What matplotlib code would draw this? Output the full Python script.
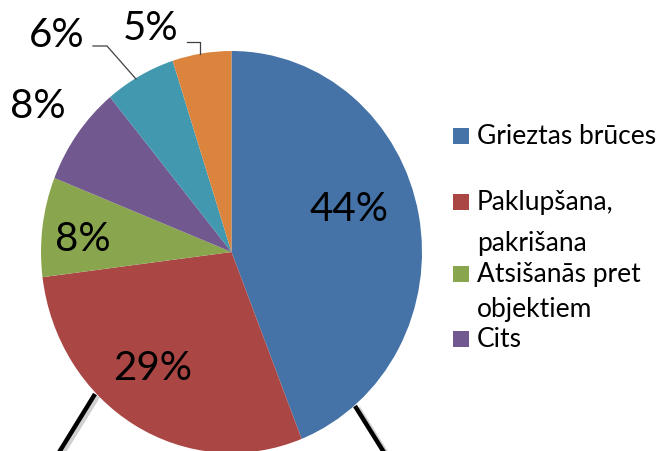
import matplotlib
matplotlib.use("Agg")
import matplotlib.pyplot as plt
from matplotlib.patches import Rectangle

categories = ["Grieztas brūces", "Paklupšana,\npakrišana", "Atsišanās pret\nobjektiem",
              "Cits", "Kategorija 5", "Kategorija 6"]
shares = [44, 29, 8, 8, 6, 5]
colors = ["#4572A7", "#AA4643", "#89A54E", "#71588F", "#4198AF", "#DB843D"]

W, H = 667, 452
FONT = ["Lato", "DejaVu Sans"]

fig = plt.figure(figsize=(W / 100, H / 100), dpi=100)
ax = fig.add_axes([0, 0, 1, 1])

# pie centre / radii in pixels (the reference pie is slightly stretched)
cx, cy, rx, ry = 231.5, 253, 190.5, 201

ax.pie(shares, colors=colors, startangle=90, counterclock=False,
       radius=1, center=(0, 0), wedgeprops=dict(linewidth=0))
ax.set_aspect("auto")
ax.set_xlim(-cx / rx, (W - cx) / rx)
ax.set_ylim((cy - H) / ry, cy / ry)
ax.axis("off")


def px(x, y):
    return ((x - cx) / rx, (cy - y) / ry)


# percentage labels (pixel centres)
label_pos = [(349, 210), (153, 369), (83, 240), (38, 107), (57, 36), (151, 28)]
for val, (x, y) in zip(shares, label_pos):
    ax.text(*px(x, y), f"{val}%", fontsize=29, family=FONT,
            ha="center", va="center", color="black", zorder=5)

# leader lines for the two small slices
for pts in ([(93, 47), (107, 47), (136, 80)], [(187, 43), (200, 43), (200, 55)]):
    xs, ys = zip(*[px(*p) for p in pts])
    ax.plot(xs, ys, color="#404040", lw=0.9, zorder=4)

# black callout lines behind the pie, with a soft shadow
for (x0, y0), (x1, y1) in (((95, 395), (58, 455)), ((355, 407), (385, 455))):
    sx, sy = zip(px(x0 + 3, y0 + 2), px(x1 + 3, y1 + 2))
    ax.plot(sx, sy, color="#d0d0d0", lw=3.5, zorder=-2, solid_capstyle="butt")
    lx, ly = zip(px(x0, y0), px(x1, y1))
    ax.plot(lx, ly, color="black", lw=3.2, zorder=-1, solid_capstyle="butt")

# legend (only the first four entries fit in the cropped picture)
line_rows = [[137], [203, 244], [275, 310], [340]]
for name, col, rows in zip(categories[:4], colors, line_rows):
    fig.patches.append(Rectangle((453 / W, 1 - (rows[0] + 8) / H), 16 / W, 16 / H,
                                 transform=fig.transFigure, facecolor=col,
                                 edgecolor="none"))
    for part, y in zip(name.split("\n"), rows):
        fig.text(477 / W, 1 - (y + 7) / H, part, fontsize=19, family=FONT,
                 ha="left", va="baseline", color="black")

fig.savefig("out.png", dpi=100)
